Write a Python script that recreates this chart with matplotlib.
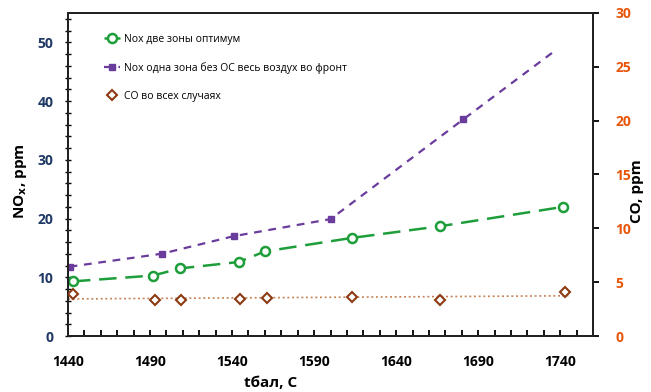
import numpy as np
import matplotlib
matplotlib.use("Agg")
import matplotlib.pyplot as plt
from matplotlib.ticker import MultipleLocator, FixedLocator

plt.rcParams['font.family'] = ['Open Sans', 'DejaVu Sans']

# NOx, two zones (optimum)
t_two = [1443, 1492, 1508, 1544, 1560, 1613, 1667, 1742]
nox_two = [9.3, 10.3, 11.5, 12.6, 14.4, 16.7, 18.7, 22.0]

# NOx, one zone without OS (all air to the front)
t_one = [1441, 1497, 1541, 1600, 1681, 1735]
nox_one = [11.8, 14.0, 17.0, 19.9, 36.9, 48.2]

# CO in all cases (right axis)
t_co = [1443, 1493, 1509, 1545, 1561, 1613, 1667, 1743]
co = [3.9, 3.35, 3.35, 3.4, 3.5, 3.6, 3.35, 4.1]

x_ticks = [1440, 1490, 1540, 1590, 1640, 1690, 1740]

labels = ["Nox две зоны оптимум",
          "Nox одна зона без ОС весь воздух во фронт",
          "CO во всех случаях"]

green = "#1E9E3A"
purple = "#6A3C9C"
brown = "#8B3A12"
brown_line = "#C8845A"

fig = plt.figure(figsize=(6.51, 3.92), dpi=100)
ax = fig.add_axes([68/651, 1-336/392, (593-68)/651, (336-13)/392])
ax2 = ax.twinx()

l1, = ax.plot(t_two, nox_two, color=green, lw=1.8, dashes=(7, 3.5),
              marker='o', ms=6.5, mfc='white', mec=green, mew=1.8, zorder=3)
l2, = ax.plot(t_one, nox_one, color=purple, lw=1.6, dashes=(3.5, 3),
              marker='s', ms=5, mfc=purple, mec=purple,
              markevery=list(range(len(t_one) - 1)), zorder=3)

# CO linear trend line
coef = np.polyfit(t_co, co, 1)
xt = np.array([1440, 1745])
ax2.plot(xt, np.polyval(coef, xt), color=brown_line, lw=1.2, ls=(0, (1.2, 1.6)))
l3, = ax2.plot(t_co, co, ls='none', marker='D', ms=5, mfc='white',
               mec=brown, mew=1.5, zorder=3)

ax.set_xlim(1440, 1760)
ax.set_ylim(0, 55)
ax2.set_ylim(0, 30)

ax.xaxis.set_major_locator(FixedLocator(x_ticks))
ax.xaxis.set_minor_locator(FixedLocator(np.arange(1440, 1760, 10)))
ax.yaxis.set_major_locator(MultipleLocator(10))
ax.yaxis.set_minor_locator(MultipleLocator(2))
ax2.yaxis.set_major_locator(MultipleLocator(5))

ax.tick_params(axis='x', which='both', direction='in', length=4, width=1.3,
               pad=14, labelsize=10)
ax.tick_params(axis='y', which='both', direction='inout', length=5, width=1.0,
               pad=8, labelsize=10, labelcolor='#1F3864')
ax2.tick_params(axis='y', which='major', direction='out', length=4, width=1.3,
                pad=12, labelsize=10, labelcolor='#E8550A')

for a in (ax, ax2):
    for s in a.spines.values():
        s.set_linewidth(1.4)
        s.set_color('#222222')

for lab in ax.get_xticklabels() + ax.get_yticklabels() + ax2.get_yticklabels():
    lab.set_fontweight('bold')

ax.set_xlabel("tбал, С", fontsize=11, fontweight='bold')
ax.xaxis.set_label_coords(0.385, -0.125)
ax.set_ylabel(r"NO$_\mathbf{x}$, ppm", fontsize=11, fontweight='bold')
ax.yaxis.set_label_coords(-0.075, 0.48)
ax2.set_ylabel("CO, ppm", fontsize=11, fontweight='bold')
ax2.yaxis.set_label_coords(1.07, 0.45)

leg = ax.legend([l1, l2, l3], labels, loc='upper left',
                bbox_to_anchor=(0.05, 0.965), frameon=False, fontsize=7.5,
                handlelength=1.6, handletextpad=0.4, labelspacing=1.65)

fig.savefig("out.png", dpi=100)
